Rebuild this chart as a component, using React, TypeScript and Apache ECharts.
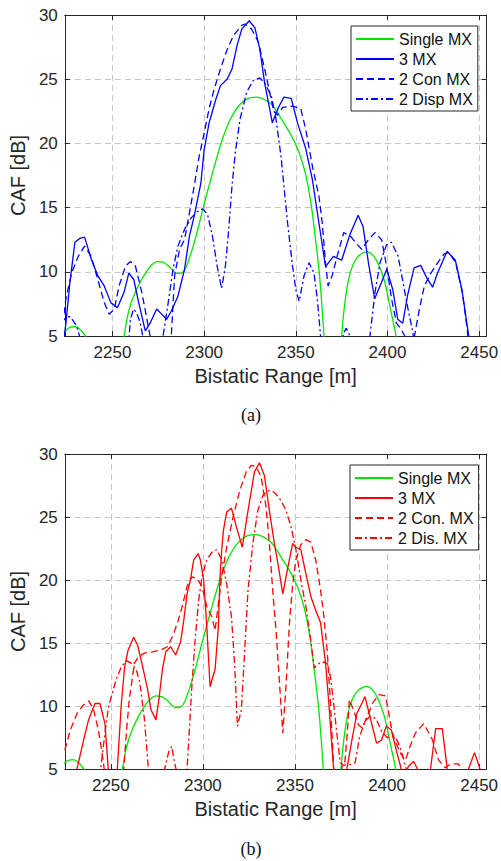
import React, { useEffect, useRef } from "react";
import * as echarts from "echarts";

type Pt = [number, number];

// ---- tick labels / names ----
const xTicks = [2250, 2300, 2350, 2400, 2450];
const namesTop = ["Single MX", "3 MX", "2 Con MX", "2 Disp MX"];
const namesBottom = ["Single MX", "3 MX", "2 Con. MX", "2 Dis. MX"];

// ---- Single MX (same in both panels) ----
const singleMX: Pt[] = [
  [2222, 5.0], [2224, 5.35], [2226, 5.6], [2228, 5.72], [2230, 5.72], [2232, 5.55], [2234, 5.25],
  [2236, 4.8], [2240, 3.2], [2245, 0.5], [2250, 1.5], [2254, 3.8], [2256.3, 5.0], [2258, 6.4],
  [2260, 7.5], [2262.6, 8.45], [2265.5, 9.3], [2268.9, 10.1], [2271.5, 10.55], [2274.3, 10.8],
  [2277.5, 10.75], [2281, 10.4], [2285.1, 9.88], [2287.5, 9.9], [2289.6, 10.2], [2292.5, 11.3],
  [2295.8, 12.9], [2299.5, 15.0], [2304, 17.4], [2309, 19.9], [2314, 21.8], [2319, 22.95],
  [2324, 23.5], [2329, 23.6], [2333, 23.4], [2337, 23.0], [2340, 22.4], [2343, 21.7], [2346, 21.0],
  [2349, 20.2], [2352, 19.2], [2355, 17.8], [2358, 15.6], [2360.5, 12.8], [2363, 9.6], [2365.3, 5.1],
  [2367, 1], [2370, -3], [2373, 0], [2375, 5.0], [2376.5, 7.3], [2378.6, 9.3], [2381, 10.5],
  [2384, 11.2], [2387, 11.5], [2389, 11.55], [2392, 11.3], [2395, 10.6], [2398.3, 9.3],
  [2400.5, 7.9], [2402.5, 6.5], [2404.6, 5.0], [2406, 2], [2410, -2],
];

// ---- panel (a) ----
const a3MX: Pt[] = [
  [2222, 3], [2224.6, 6.0], [2226.8, 9.2], [2229.5, 12.3], [2232.1, 12.6], [2234.8, 12.7], [2238.4, 11.0],
  [2242, 9.7], [2245.5, 8.9], [2249.1, 7.6], [2252.7, 7.2], [2256.3, 8.4], [2258.9, 9.9], [2261.6, 9.4],
  [2264.3, 7.6], [2267.9, 5.4], [2270.5, 6.0], [2274.1, 7.1], [2276.8, 6.7], [2279.5, 6.3], [2282.1, 6.95],
  [2285.7, 8.1], [2289.3, 10.2], [2292, 12.8], [2294.6, 14.35], [2298.2, 16.9], [2300, 19.5], [2302.7, 21.6],
  [2306.3, 23.4], [2308.9, 24.5], [2312.5, 25], [2315.2, 25.8], [2317.9, 27.6], [2320.5, 28.9],
  [2324.6, 29.55], [2327.7, 29], [2330.4, 27.3], [2333, 24.7], [2337.2, 21.6], [2340.5, 22.8],
  [2343.5, 23.6], [2347.5, 23.5], [2350.9, 21.6], [2355.4, 19.6], [2359, 17.2], [2362.6, 13.8],
  [2366.2, 10.4], [2370.5, 11.2], [2375, 10.9], [2379.5, 12.9], [2384, 14.4], [2386.7, 13.5],
  [2389.6, 10.7], [2393, 7.9], [2396.8, 9.2], [2399.6, 10.2], [2402.9, 8.6], [2405.6, 6.3], [2408.3, 6.0],
  [2411, 8.2], [2414.5, 10.3], [2418.1, 10.5], [2421.5, 9.5], [2424.6, 8.8], [2427.3, 9.9], [2432.5, 11.6],
  [2437, 10.9], [2440.6, 8.6], [2444.2, 5.1], [2446, 3],
];
const a2Con: Pt[] = [
  [2222, 5], [2224.6, 7.9], [2227.7, 9.9], [2231.3, 11.2], [2234.8, 12.0], [2238.4, 11.2], [2242, 9.4],
  [2245.5, 7.6], [2248.2, 6.7], [2251, 7.1], [2253.6, 8.9], [2257.1, 10.45], [2259.8, 10.8], [2262.5, 10.45],
  [2266, 8.4], [2268.8, 6.3], [2270.5, 5], [2273, 3.5], [2278, 3], [2282, 4.8], [2283.9, 9.7],
  [2286.6, 11.75], [2289.3, 12.5], [2292, 14.6], [2294.6, 16.7], [2297.3, 19], [2300, 20.8], [2302.7, 22.7],
  [2305.4, 24.2], [2308.9, 25.8], [2312.5, 27.3], [2316, 28.4], [2320.5, 29.2], [2322.3, 29.3],
  [2325.9, 28.9], [2329.5, 27.9], [2333, 25.8], [2335.7, 24.0], [2338, 22.5], [2340, 22.2], [2342.8, 22.8],
  [2348.2, 22.9], [2352.7, 22.7], [2355.4, 21.1], [2359, 18.25], [2362.6, 15.9], [2364.4, 13.8],
  [2366.2, 10.7], [2367.6, 8.9], [2369.8, 9.7], [2372.5, 11.2], [2376.1, 13.05], [2379.7, 12.8],
  [2382.4, 12.3], [2386, 11.75], [2389.6, 12.5], [2393.2, 13.05], [2396.8, 12.5], [2399.5, 10.45],
  [2402.2, 7.9], [2404.9, 6.0], [2407.6, 5.5], [2409.4, 5], [2412, 3.5], [2414.7, 5], [2417.4, 7.1],
  [2420.1, 8.9], [2423.7, 9.9], [2427.3, 10.7], [2430.9, 11.4], [2433.6, 11.5], [2437.2, 10.7],
  [2440.8, 8.4], [2443.5, 5.5], [2445, 3],
];
const a2Disp: Pt[] = [
  [2222, 6], [2225, 6.5], [2227, 6.5], [2230.4, 5.8], [2232, 5], [2236, 2], [2250, 0], [2258, 3],
  [2259.8, 6.3], [2261.5, 7.1], [2263.2, 6.8], [2265.2, 6.0], [2266.5, 5], [2270, 2], [2276, 3],
  [2277.7, 5.1], [2280.4, 7.6], [2283, 10.2], [2285.7, 12], [2289.3, 13.3], [2292.9, 14.2], [2296.4, 14.7],
  [2299.1, 14.9], [2301.8, 14.5], [2304.5, 12.8], [2307.1, 10.45], [2309.5, 8.7], [2311.6, 10.45],
  [2313.4, 13.3], [2315.2, 16.7], [2317, 19.3], [2319.6, 21.9], [2323.2, 24], [2326.8, 24.9], [2330.4, 25.1],
  [2333, 24.7], [2336.6, 23.7], [2339.2, 21.9], [2341.9, 19], [2343.7, 16.4], [2345.5, 13.8], [2348.2, 10.45],
  [2350, 8.6], [2351.8, 7.7], [2354.5, 9.7], [2357.2, 10.7], [2359.9, 9.9], [2361.7, 7.9], [2363.5, 5],
  [2366, 2], [2374, 3], [2376, 5.2], [2377.5, 5.6], [2379, 5.2], [2381, 3], [2388, 3], [2390.5, 5.1],
  [2393.2, 8.4], [2395.9, 10.7], [2399.5, 12.1], [2402.2, 12.3], [2405.8, 11.2], [2408.5, 9.15],
  [2411.2, 7.1], [2413.8, 5.3], [2416, 3],
];

// ---- panel (b) ----
const b3MX: Pt[] = [
  [2229, 3], [2231.6, 5], [2235.2, 7.3], [2237.9, 8.9], [2241.4, 10.2], [2244.1, 10.2], [2246.8, 8.6],
  [2248.6, 5], [2250.5, 2], [2252, 2], [2253.5, 5], [2255.7, 10.2], [2257.5, 13.1], [2259.3, 14.4],
  [2262.4, 15.45], [2264.6, 14.8], [2267.3, 13.1], [2270, 11.3], [2271.8, 9.7], [2274.5, 8.9],
  [2276.3, 10.75], [2278, 12.9], [2279.8, 14.3], [2282.5, 14.7], [2285.2, 14.05], [2287.9, 15.1],
  [2289.6, 16.8], [2291.4, 18.9], [2293.2, 20], [2295, 21.6], [2297.4, 22.1], [2298.6, 21.6], [2300.4, 20],
  [2302.1, 16.3], [2303.9, 11.55], [2306.6, 12.9], [2308.4, 16.3], [2309.3, 20.25], [2310.2, 22.4],
  [2311.1, 23.9], [2312.9, 25.4], [2315.5, 25.7], [2318.2, 24.2], [2321.4, 22.6], [2323.6, 24.7],
  [2326.3, 27.1], [2328, 28.6], [2330.7, 29.3], [2333.4, 28.3], [2336.1, 25.5], [2338.8, 22.9],
  [2340.5, 21.5], [2343.4, 18.9], [2346.1, 21], [2348.75, 22.9], [2350.5, 22.6], [2353.2, 22.4],
  [2355.9, 20.5], [2358.6, 18.7], [2361.25, 17.6], [2363.9, 16.6], [2366.6, 13.4], [2368.4, 10.2],
  [2370.2, 6.5], [2371, 5], [2373, 2], [2377, 2], [2378.2, 5], [2380.9, 7.3], [2383.6, 9.4],
  [2386.25, 10.2], [2388, 10.75], [2390.7, 9.15], [2394.3, 7.05], [2397, 7.3], [2399.6, 8.4],
  [2402.3, 8.1], [2405, 6.5], [2407.7, 5], [2409.5, 4], [2411.5, 5.2], [2414.5, 5.6], [2416.5, 5.0],
  [2418, 4], [2422, 4], [2423.6, 5], [2426.4, 8.2], [2430, 8.2], [2432.7, 5], [2435, 3], [2442, 3],
  [2444.2, 5], [2447.5, 6.3], [2450.5, 5], [2452, 3],
];
const b2Con: Pt[] = [
  [2225, 6.5], [2228, 8.1], [2231.6, 9.4], [2235.2, 10.1], [2238, 10.4], [2240.5, 9.8], [2243.2, 8.1],
  [2245, 6.5], [2246.4, 5], [2249, 2], [2255, 2], [2257, 5], [2258.5, 8], [2260, 10.5], [2262.8, 13.4],
  [2265, 13.9], [2268.2, 14.2], [2272.7, 14.3], [2277.1, 14.45], [2280.7, 14.7], [2283.4, 15.5],
  [2286.1, 16.55], [2288.75, 17.9], [2291.4, 19.5], [2294.1, 20.25], [2296.8, 20.1], [2299.5, 19.5],
  [2302.1, 17.9], [2304.8, 17.1], [2306.6, 16], [2308.4, 18.1], [2310.2, 20.25], [2312.9, 22.6],
  [2316.4, 25], [2320, 27.1], [2323.6, 28.6], [2326.3, 29.1], [2328.9, 29], [2331.6, 28.2], [2334.3, 25.8],
  [2336.1, 22.9], [2337.9, 19.2], [2339.8, 15.8], [2341.6, 11.8], [2343.4, 7.85], [2345.2, 11.8],
  [2347, 16.6], [2348.75, 19.7], [2350.5, 21.6], [2353.2, 22.8], [2355.9, 23.2], [2358.6, 23.0],
  [2361.25, 21.6], [2363.9, 19.2], [2365.7, 17.1], [2367.5, 14.4], [2369.3, 10.2], [2371, 5], [2372, 2],
  [2374, 3], [2375.5, 5.2], [2377, 5.4], [2378.5, 8], [2379.5, 10.5], [2382, 9.6], [2384.5, 8.5],
  [2386.6, 8.25], [2389.5, 9.3], [2392.5, 10.3], [2395.6, 10.9], [2399.2, 10.8], [2402.8, 7.9],
  [2405, 7.0], [2407.5, 6.2], [2410, 5.7], [2412.5, 6.8], [2415.4, 7.85], [2419.9, 8.6], [2424.4, 7.4],
  [2428, 5.7], [2431.6, 5.1], [2433.5, 5.3], [2435.2, 5.4], [2438.8, 5.4], [2440.5, 5], [2443, 3],
];
const b2Dis: Pt[] = [
  [2242, 2], [2244.5, 5], [2246.8, 7.85], [2248.6, 9.8], [2250.5, 10.9], [2253.1, 12.2], [2255.7, 13.1],
  [2258.5, 13.6], [2261, 13.4], [2263.75, 12.9], [2265.7, 11.9], [2268.2, 9], [2270.4, 5], [2273, 2],
  [2277, 2], [2279.2, 5], [2281.5, 6.4], [2283.1, 6.8], [2284.2, 5.8], [2285.4, 5], [2287, 2], [2290, 2],
  [2291.4, 5], [2294.1, 11.8], [2295.9, 15.5], [2297.7, 18.4], [2299.5, 20.25], [2302.1, 21.6],
  [2304.8, 22.2], [2307.5, 22.4], [2310.2, 21.6], [2312.9, 19.7], [2315.5, 17.1], [2317.3, 13.1],
  [2318.75, 8.4], [2320.9, 9.7], [2322.7, 14.45], [2324.5, 19.2], [2327.1, 22.9], [2329.8, 25.5],
  [2332.5, 26.7], [2335.2, 27.1], [2337.9, 27.05], [2339.8, 26.8], [2342.5, 26.3], [2345.2, 25.5],
  [2347.9, 24.2], [2350.5, 22.4], [2353.2, 20], [2355.9, 17.9], [2358.6, 15.2], [2360.4, 13],
  [2362.1, 13.3], [2364.8, 13.5], [2367.5, 13.4], [2369.3, 12.3], [2371, 10.2], [2372.9, 7.6],
  [2374.6, 5.5], [2376.4, 5.3], [2380, 5.35], [2382.7, 5.5], [2385, 7.5], [2388, 8.8], [2391, 9.2],
  [2394, 9.0], [2397, 8.0], [2400, 7.5], [2403, 7.6], [2405.5, 7.3], [2408, 6.3], [2410.4, 5], [2412, 3],
];

const FONT = '"Liberation Sans", Arial, Helvetica, sans-serif';
const AXIS = "#262626";
const GRIDC = "#c6c6c6";
const GREEN = "#00e600";

interface PanelCfg {
  xMin: number;
  xMax: number;
  grid: { left: number; top: number; width: number; height: number };
  legend: { left: number; top: number };
  caption: string;
  captionY: number;
  color: string;
  names: string[];
  data: Pt[][];
}

function buildOption(c: PanelCfg): any {
  const tickStyle = { show: true, inside: true, length: 5, lineStyle: { color: AXIS, width: 1 } };
  const lineAxis = { show: true, onZero: false, lineStyle: { color: AXIS, width: 1 } };
  const dashes: any[] = ["solid", "solid", [7, 4], [7, 3, 2, 3]];
  const colors = [GREEN, c.color, c.color, c.color];
  return {
    animation: false,
    backgroundColor: "#ffffff",
    grid: { ...c.grid, containLabel: false, show: false },
    legend: {
      show: true,
      orient: "vertical",
      left: c.legend.left,
      top: c.legend.top,
      data: c.names,
      itemWidth: 38,
      itemHeight: 14,
      itemGap: 0,
      padding: [3, 5, 2, 4],
      backgroundColor: "#ffffff",
      borderColor: AXIS,
      borderWidth: 1,
      borderRadius: 0,
      selectedMode: false,
      itemStyle: { color: "rgba(0,0,0,0)", borderWidth: 0, opacity: 0 },
      textStyle: { fontFamily: FONT, fontSize: 16, color: "#111", lineHeight: 20 },
    },
    xAxis: [
      {
        type: "value",
        min: c.xMin,
        max: c.xMax,
        position: "bottom",
        name: "Bistatic Range [m]",
        nameLocation: "middle",
        nameGap: 30,
        nameTextStyle: { fontFamily: FONT, fontSize: 20, color: AXIS },
        axisLine: lineAxis,
        axisTick: { ...tickStyle, customValues: xTicks },
        axisLabel: {
          customValues: xTicks,
          formatter: (v: number) => String(v),
          fontFamily: FONT,
          fontSize: 17,
          color: AXIS,
          margin: 8,
        },
        splitLine: { show: true, lineStyle: { color: GRIDC, width: 1, type: [6, 4] } },
      },
      {
        type: "value",
        min: c.xMin,
        max: c.xMax,
        position: "top",
        axisLine: lineAxis,
        axisTick: { ...tickStyle, customValues: xTicks },
        axisLabel: { show: false, customValues: xTicks },
        splitLine: { show: false },
      },
    ],
    yAxis: [
      {
        type: "value",
        min: 5,
        max: 30,
        interval: 5,
        position: "left",
        name: "CAF [dB]",
        nameLocation: "middle",
        nameGap: 28,
        nameTextStyle: { fontFamily: FONT, fontSize: 20, color: AXIS },
        axisLine: lineAxis,
        axisTick: tickStyle,
        axisLabel: { fontFamily: FONT, fontSize: 17, color: AXIS, margin: 7 },
        splitLine: { show: true, lineStyle: { color: GRIDC, width: 1, type: [6, 4] } },
      },
      {
        type: "value",
        min: 5,
        max: 30,
        interval: 5,
        position: "right",
        axisLine: lineAxis,
        axisTick: tickStyle,
        axisLabel: { show: false },
        splitLine: { show: false },
      },
    ],
    series: c.names.map((n, i) => ({
      name: n,
      type: "line",
      xAxisIndex: 0,
      yAxisIndex: 0,
      data: c.data[i],
      symbol: "none",
      showSymbol: false,
      smooth: i === 0 ? 0.35 : false,
      clip: true,
      silent: true,
      z: 2 + i,
      color: colors[i],
      itemStyle: { color: colors[i] },
      lineStyle: { color: colors[i], width: 1.3, type: dashes[i] },
      emphasis: { disabled: true },
    })),
    graphic: [
      {
        type: "text",
        x: 251,
        y: c.captionY,
        style: {
          text: c.caption,
          fontFamily: '"Liberation Serif", "Times New Roman", serif',
          fontSize: 18,
          fill: "#111",
          align: "center",
          verticalAlign: "middle",
        },
      },
    ],
  };
}

function Panel(props: { cfg: PanelCfg; top: number; height: number }) {
  const ref = useRef<HTMLDivElement>(null);
  useEffect(() => {
    if (!ref.current) return;
    const chart = echarts.init(ref.current, undefined, { renderer: "svg" });
    chart.setOption(buildOption(props.cfg));
    return () => chart.dispose();
  }, []);
  return (
    <div
      ref={ref}
      style={{ position: "absolute", left: 0, top: props.top, width: 501, height: props.height }}
    />
  );
}

const cfgA: PanelCfg = {
  xMin: 2224,
  xMax: 2454,
  grid: { left: 60, top: 15, width: 427, height: 321 },
  legend: { left: 351, top: 26 },
  caption: "(a)",
  captionY: 415,
  color: "#0000ff",
  names: namesTop,
  data: [singleMX, a3MX, a2Con, a2Disp],
};

const cfgB: PanelCfg = {
  xMin: 2225,
  xMax: 2454,
  grid: { left: 63, top: 24, width: 425, height: 315 },
  legend: { left: 350, top: 35 },
  caption: "(b)",
  captionY: 419,
  color: "#ff0000",
  names: namesBottom,
  data: [singleMX, b3MX, b2Con, b2Dis],
};

export default function App() {
  return (
    <div style={{ position: "absolute", left: 0, top: 0, width: 501, height: 861, background: "#fff" }}>
      <Panel cfg={cfgA} top={0} height={430} />
      <Panel cfg={cfgB} top={430} height={431} />
    </div>
  );
}
